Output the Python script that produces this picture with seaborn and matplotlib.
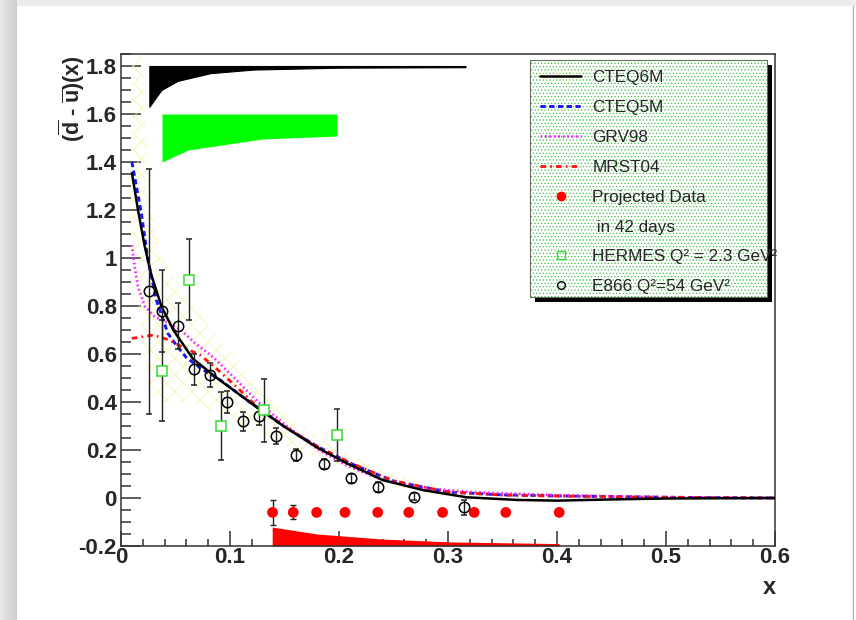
import numpy as np
import matplotlib
matplotlib.use("Agg")
import matplotlib.pyplot as plt
from matplotlib.patches import Rectangle, Patch
from matplotlib.lines import Line2D
from matplotlib.ticker import MultipleLocator, FormatStrFormatter
import seaborn as sns

# ---------------- data ----------------
# model curves (x, dbar-ubar)
cteq6m_x = [0.010, 0.0156, 0.0217, 0.0278, 0.037, 0.048, 0.066, 0.088, 0.097, 0.118, 0.149,
            0.180, 0.207, 0.240, 0.277, 0.317, 0.363, 0.400, 0.450, 0.500, 0.600]
cteq6m_y = [1.354, 1.20, 1.05, 0.93, 0.80, 0.70, 0.58, 0.50, 0.47, 0.40, 0.30,
            0.21, 0.145, 0.075, 0.033, 0.003, -0.008, -0.011, -0.006, -0.002, 0.0]

cteq5m_x = [0.010, 0.0187, 0.0248, 0.0324, 0.043, 0.051, 0.060, 0.075, 0.090, 0.118, 0.149,
            0.180, 0.210, 0.250, 0.300, 0.350, 0.400, 0.450, 0.500, 0.600]
cteq5m_y = [1.40, 1.186, 0.99, 0.825, 0.686, 0.635, 0.585, 0.535, 0.495, 0.40, 0.30,
            0.215, 0.145, 0.07, 0.025, 0.013, 0.009, 0.006, 0.003, 0.0]

grv98_x = [0.010, 0.0125, 0.0156, 0.0217, 0.031, 0.043, 0.055, 0.068, 0.085, 0.103, 0.1245,
           0.152, 0.180, 0.207, 0.240, 0.280, 0.320, 0.360, 0.400, 0.450, 0.500, 0.600]
grv98_y = [1.054, 0.964, 0.88, 0.80, 0.755, 0.73, 0.70, 0.645, 0.585, 0.505, 0.405,
           0.30, 0.205, 0.135, 0.075, 0.04, 0.025, 0.018, 0.012, 0.007, 0.003, 0.0]

mrst04_x = [0.010, 0.020, 0.028, 0.035, 0.043, 0.055, 0.0725, 0.085, 0.097, 0.109, 0.121,
            0.149, 0.180, 0.210, 0.250, 0.300, 0.350, 0.400, 0.450, 0.500, 0.600]
mrst04_y = [0.665, 0.672, 0.678, 0.672, 0.66, 0.632, 0.596, 0.55, 0.50, 0.45, 0.398,
            0.30, 0.215, 0.147, 0.072, 0.025, 0.012, 0.008, 0.005, 0.003, 0.0]

# CTEQ6M uncertainty band
band_x = [0.010, 0.015, 0.020, 0.027, 0.035, 0.045, 0.060, 0.080, 0.100, 0.120, 0.150,
          0.180, 0.210, 0.250, 0.300, 0.350, 0.400, 0.500, 0.600]
band_lo = [1.00, 0.85, 0.62, 0.45, 0.40, 0.40, 0.40, 0.37, 0.33, 0.28, 0.22,
           0.16, 0.11, 0.05, 0.0, -0.015, -0.02, -0.005, 0.0]
band_hi = [2.20, 1.95, 1.75, 1.25, 1.05, 0.93, 0.84, 0.72, 0.62, 0.50, 0.36,
           0.26, 0.18, 0.10, 0.04, 0.015, 0.005, 0.003, 0.0]

# E866 data
e866_x = [0.026, 0.038, 0.052, 0.067, 0.082, 0.097, 0.112, 0.127, 0.142, 0.161,
          0.186, 0.211, 0.236, 0.269, 0.315]
e866_y = [0.862, 0.78, 0.717, 0.537, 0.512, 0.40, 0.32, 0.340, 0.258, 0.179,
          0.142, 0.082, 0.047, 0.006, -0.039]
e866_err = [0.51, 0.17, 0.095, 0.065, 0.05, 0.047, 0.04, 0.035, 0.035, 0.025,
            0.02, 0.02, 0.02, 0.015, 0.03]

# HERMES data
hermes_x = [0.038, 0.062, 0.092, 0.131, 0.198]
hermes_y = [0.53, 0.91, 0.30, 0.365, 0.262]
hermes_err = [0.21, 0.17, 0.14, 0.13, 0.107]

# projected data
proj_x = [0.139, 0.158, 0.1795, 0.2055, 0.2355, 0.264, 0.295, 0.324, 0.353, 0.402]
proj_y = [-0.06, -0.06, -0.06, -0.06, -0.06, -0.06, -0.06, -0.06, -0.06, -0.06]
proj_err = [0.052, 0.029, 0.012, 0.011, 0.010, 0.010, 0.010, 0.010, 0.010, 0.010]

# systematic bands
black_x = [0.026, 0.037, 0.052, 0.082, 0.121, 0.200, 0.316]
black_lo = [1.63, 1.70, 1.738, 1.77, 1.785, 1.793, 1.795]
black_top = 1.80
green_x = [0.0376, 0.0617, 0.130, 0.198]
green_lo = [1.40, 1.45, 1.496, 1.508]
green_top = 1.60
red_x = [0.1387, 0.18, 0.24, 0.302, 0.402]
red_hi = [-0.121, -0.150, -0.171, -0.183, -0.190]
red_bottom = -0.20

legend_labels = ["CTEQ6M", "CTEQ5M", "GRV98", "MRST04", "Projected Data", " in 42 days",
                 "HERMES Q² = 2.3 GeV²", "E866 Q²=54 GeV²"]

# ---------------- style ----------------
sns.set_theme(style="ticks")
plt.rcParams["font.family"] = ["Liberation Sans", "DejaVu Sans"]
plt.rcParams["mathtext.fontset"] = "custom"
plt.rcParams["mathtext.rm"] = "Liberation Sans"
plt.rcParams["mathtext.it"] = "Liberation Sans:italic"
plt.rcParams["mathtext.bf"] = "Liberation Sans:bold"
plt.rcParams["hatch.linewidth"] = 0.5

W, H = 856, 620
fig = plt.figure(figsize=(W / 100, H / 100), dpi=100)
fig.patch.set_facecolor("white")

# screenshot-like gray margins
bg = fig.add_axes([0, 0, 1, 1], zorder=-10)
bg.set_xlim(0, W)
bg.set_ylim(H, 0)
bg.axis("off")
grad = np.linspace(0.91, 0.80, 64)[None, :]
bg.imshow(np.repeat(grad, 2, axis=0), cmap="gray", vmin=0, vmax=1, aspect="auto",
          extent=(0, 17, H, 0))
bg.add_patch(Rectangle((17, 0), W - 17, 6, color="#ededed", lw=0))
bg.plot([853, 853], [6, H], color="#aaaaaa", lw=0.8)

L, R, T, B = 121, 775, 54, 546
ax = fig.add_axes([L / W, 1 - B / H, (R - L) / W, (B - T) / H])
ax.set_facecolor("white")
ax.set_xlim(0, 0.6)
ax.set_ylim(-0.2, 1.85)

yellow = "#f7f3a6"
ax.fill_between(band_x, band_lo, band_hi, facecolor="none", edgecolor=yellow,
                hatch="xx", linewidth=0, zorder=1)

# systematic bands
ax.fill_between(black_x, black_lo, black_top, color="black", lw=0.8, zorder=2)
ax.fill_between(green_x, green_lo, green_top, color="#00ff00", lw=0, zorder=2)
ax.fill_between(red_x, red_bottom, red_hi, color="#ff0000", lw=0, zorder=2)

# model curves
sns.lineplot(x=cteq5m_x, y=cteq5m_y, ax=ax, color="#1515ff", lw=2.1,
             linestyle=(0, (1.8, 1.2)), zorder=4, legend=False)
sns.lineplot(x=grv98_x, y=grv98_y, ax=ax, color="#ff22ff", lw=2.0,
             linestyle=(0, (0.6, 1.0)), zorder=4, legend=False)
sns.lineplot(x=mrst04_x, y=mrst04_y, ax=ax, color="#ff1010", lw=2.0,
             linestyle=(0, (2.0, 1.5, 0.6, 1.5)), zorder=4, legend=False)
sns.lineplot(x=cteq6m_x, y=cteq6m_y, ax=ax, color="black", lw=1.8, zorder=5, legend=False)

# data
ax.errorbar(e866_x, e866_y, yerr=e866_err, fmt="o", ms=7.5, mfc="none", mec="black",
            mew=1.1, ecolor="#222222", elinewidth=1.0, capsize=2.5, capthick=1.0, zorder=6)
ax.errorbar(hermes_x, hermes_y, yerr=hermes_err, fmt="s", ms=6.5, mfc="white",
            mec="#33dd33", mew=1.1, ecolor="#222222", elinewidth=1.0, capsize=2.5,
            capthick=1.0, zorder=6)
ax.errorbar(proj_x, proj_y, yerr=proj_err, fmt="none", ecolor="#222222",
            elinewidth=1.0, capsize=2.5, capthick=1.0, zorder=6)
sns.scatterplot(x=proj_x, y=proj_y, ax=ax, color="#ff0000", s=60, edgecolor="none",
                zorder=7, legend=False)

# axes styling (ROOT-like)
for side in ["left", "bottom", "top", "right"]:
    ax.spines[side].set_visible(True)
    ax.spines[side].set_color("#333333")
    ax.spines[side].set_linewidth(1.1)
ax.xaxis.set_major_locator(MultipleLocator(0.1))
ax.xaxis.set_minor_locator(MultipleLocator(0.02))
ax.yaxis.set_major_locator(MultipleLocator(0.2))
ax.yaxis.set_minor_locator(MultipleLocator(0.05))
ax.xaxis.set_major_formatter(FormatStrFormatter("%g"))
ax.yaxis.set_major_formatter(plt.FuncFormatter(lambda v, p: "%g" % round(v, 2)))
ax.tick_params(axis="both", which="both", direction="in", color="#333333",
               top=False, right=False)
ax.tick_params(axis="y", which="major", length=14.2, width=1.1, pad=3)
ax.tick_params(axis="y", which="minor", length=7.1, width=1.1)
ax.tick_params(axis="x", which="major", length=10.7, width=1.1, pad=1)
ax.tick_params(axis="x", which="minor", length=5.4, width=1.1)
for lab in ax.get_xticklabels() + ax.get_yticklabels():
    lab.set_fontsize(16)
    lab.set_fontweight("bold")

fig.text(72 / W, 1 - 55 / H, r"$\mathbf{(\overline{d}}$ - $\mathbf{\overline{u})(x)}$",
         rotation=90, ha="center", va="top", fontsize=15.5, fontweight="bold")
fig.text(769 / W, 1 - 587 / H, "x", ha="center", va="center", fontsize=17,
         fontweight="bold")

# legend box with shadow and dotted green fill
bx0, by1 = (530 - L) / (R - L), (B - 60) / (B - T)
bx1, by0 = (767 - L) / (R - L), (B - 297) / (B - T)
dx, dy = 5 / (R - L), 5 / (B - T)
ax.add_patch(Rectangle((bx0 + dx, by0 - dy), bx1 - bx0, by1 - by0, transform=ax.transAxes,
                       facecolor="black", edgecolor="none", zorder=8))
ax.add_patch(Rectangle((bx0, by0), bx1 - bx0, by1 - by0, transform=ax.transAxes,
                       facecolor="white", edgecolor="#666666", lw=0.8, zorder=9))
ax.add_patch(Rectangle((bx0, by0), bx1 - bx0, by1 - by0, transform=ax.transAxes,
                       facecolor="none", edgecolor="#44c044", hatch=".....", lw=0, zorder=9))

h_cteq6 = (Patch(facecolor="none", edgecolor=yellow, hatch="xx", lw=0),
           Line2D([], [], color="black", lw=1.8))
handles = [
    h_cteq6,
    Line2D([], [], color="#1515ff", lw=2.1, linestyle=(0, (1.8, 1.2))),
    Line2D([], [], color="#ff22ff", lw=2.0, linestyle=(0, (0.6, 1.0))),
    Line2D([], [], color="#ff1010", lw=2.0, linestyle=(0, (2.0, 1.5, 0.6, 1.5))),
    Line2D([], [], color="#ff0000", marker="o", ms=7, lw=0, mec="none"),
    Line2D([], [], lw=0, marker=None),
    Line2D([], [], color="#33dd33", marker="s", ms=5.5, lw=0, mfc="none", mew=1.0),
    Line2D([], [], color="black", marker="o", ms=5.5, lw=0, mfc="none", mew=1.0),
]
leg = ax.legend(handles, legend_labels, loc="upper left", bbox_to_anchor=(bx0, by1),
                frameon=False, fontsize=12.3, handlelength=2.4, handletextpad=0.65,
                labelspacing=0.87, borderaxespad=0, borderpad=0.6)
leg.set_zorder(10)

fig.savefig("out.png", dpi=100)
